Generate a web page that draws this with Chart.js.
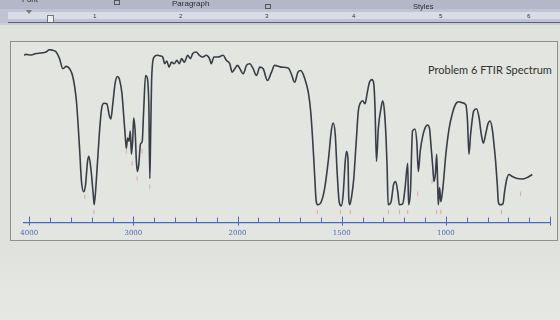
<!DOCTYPE html>
<html>
<head>
<meta charset="utf-8">
<script src="https://cdn.jsdelivr.net/npm/chart.js@4/dist/chart.umd.min.js"></script>
<style>
html, body { margin: 0; padding: 0; }
body { width: 560px; height: 320px; overflow: hidden; position: relative; background: #e0e3dd; font-family: "Liberation Sans", sans-serif; }
.abs { position: absolute; }
#ribbon { left: 0; top: 0; width: 560px; height: 9px; background: #b2b8c8; }
#ruler { left: 0; top: 9px; width: 560px; height: 14px; background: #bfc4d5; }
#strip { left: 8px; top: 12px; width: 552px; height: 7px; background: #dadde8; }
#rulerline { left: 8px; top: 22px; width: 552px; height: 1px; background: #5a6172; }
#under { left: 0; top: 23px; width: 560px; height: 2px; background: #c9cdd8; }
.rtxt { font-size: 8px; color: #2b2d33; line-height: 8px; z-index: 2; }
.rnum { font-size: 6px; color: #333; line-height: 6px; top: 13px; }
#box { left: 10px; top: 41px; width: 546px; height: 198px; border: 1px solid #8d908c; background: #e3e6e0; }
#below { left: 0; top: 250px; width: 560px; height: 70px; background: linear-gradient(#e0e3dd, #e7e9e4); }
#title { left: 428px; top: 63px; font-family: Lato, "Open Sans", sans-serif; font-size: 11px; color: #2e3033; white-space: nowrap; }
canvas { position: absolute; left: 0; top: 0; }
</style>
</head>
<body>
<div id="below" class="abs"></div>
<div id="ribbon" class="abs"></div>
<div id="ruler" class="abs"></div>
<div id="strip" class="abs"></div>
<div class="abs rtxt" style="left:22px;top:-4px;">Font</div>
<div class="abs" style="left:114px;top:0px;width:4px;height:3px;border:1px solid #555;"></div>
<div class="abs rtxt" style="left:172px;top:0px;">Paragraph</div>
<div class="abs" style="left:265px;top:4px;width:4px;height:3px;border:1px solid #555;"></div>
<div class="abs rtxt" style="left:413px;top:3px;font-size:7.5px;">Styles</div>
<div class="abs rnum" style="left:93px;">1</div>
<div class="abs rnum" style="left:179px;">2</div>
<div class="abs rnum" style="left:265px;">3</div>
<div class="abs rnum" style="left:352px;">4</div>
<div class="abs rnum" style="left:439px;">5</div>
<div class="abs rnum" style="left:527px;">6</div>
<div class="abs" style="left:26px;top:10px;width:0;height:0;border-left:3px solid transparent;border-right:3px solid transparent;border-top:4px solid #777;"></div>
<div class="abs" style="left:47px;top:15px;width:5px;height:6px;background:#eee;border:1px solid #777;"></div>
<div id="rulerline" class="abs"></div>
<div id="under" class="abs"></div>
<div id="box" class="abs"></div>
<div id="title" class="abs">Problem 6 FTIR Spectrum</div>
<canvas id="ftir" width="560" height="320"></canvas>
<script>
// spectrum (wavenumber in cm-1, transmittance in %)
const wavenumbers = [4050,4032,3983,3935,3886,3838,3806,3774,3741,3709,
  3677,3644,3612,3580,3547,3531,3515,3498,3476,3459,
  3440,3427,3408,3385,3376,3352,3327,3304,3281,3255,
  3230,3216,3197,3175,3152,3133,3110,3094,3078,3068,
  3055,3042,3029,3019,3007,2997,2983,2971,2961,2948,
  2932,2915,2900,2883,2867,2851,2842,2835,2825,2803,
  2770,2738,2718,2699,2679,2657,2634,2609,2582,2560,
  2537,2511,2478,2453,2430,2398,2366,2333,2301,2269,
  2252,2226,2187,2139,2107,2075,2051,2026,2000,
  1984,1973,1957,1941,1925,1909,1893,1877,1856,1837,
  1822,1789,1757,1742,1726,1710,1697,1684,1670,1660,
  1649,1638,1630,1622,1614,1598,1582,1563,1550,1541,
  1531,1522,1512,1502,1493,1483,1477,1470,1466,1461,
  1451,1442,1431,1420,1410,1399,1388,1378,1367,1355,
  1346,1340,1333,1324,1311,1303,1295,1287,1282,1277,
  1263,1251,1241,1231,1223,1207,1196,1183,1179,1170,
  1160,1148,1139,1132,1123,1111,1100,1088,1078,1071,
  1063,1057,1050,1044,1039,1036,1030,1024,1014,1000,
  984,968,952,938,920,904,896,889,881,866,
  853,841,830,820,809,798,788,777,769,761,
  753,748,740,726,718,708,697,681,657,633,
  609,585];
const transmittance = [96,96.6,96.2,97.1,97.5,98.1,99.6,99.2,98.1,93.9,
  87.5,89,87.5,82.1,67.2,52.5,35.2,16,9.6,14.1,
  28.8,32,24.3,7.7,1.3,20.5,46,62.7,65.6,65.3,
  57.6,55.7,65.6,78.4,82.6,80.6,72,58.9,44.8,37.1,
  43.5,41.6,48,33.3,41.6,56.3,48,28.8,22.4,26.9,
  39.7,41.6,62.7,83.2,81.9,62.7,17.9,41.6,80,94.7,
  96,95.6,94.9,90.7,92.4,88.5,91.7,90.7,92.8,90.7,
  93.9,91.7,96,93.9,97.1,98.1,96,94.9,96,93.9,
  90.7,94.9,94.9,96,92.8,90.7,85.3,87.5,89.6,
  86.4,84.3,89.6,90.7,87.5,83.2,88.5,87.5,80,85.3,
  89.6,88.5,88,84.3,78.9,85.3,86.4,83.8,78,72.3,
  60.8,39.7,20.5,3.2,1.3,3.2,11.5,30.7,48,53.1,
  46,22.4,3.2,0.6,7.7,28.8,35.2,30.7,5.1,1.3,
  7.7,17.9,39.7,60.8,65.9,67.2,65.3,71.7,78.7,80.6,
  78.1,62.7,28.8,49.9,62.7,67.2,60.8,43.5,25.6,1.3,
  3.2,14.1,16,9.6,1.3,1.9,11.5,27.5,1.3,9.6,
  48,49.3,40.3,22.4,35.2,44.8,49.9,51.8,49.3,38.4,
  25.6,16,21.1,33.3,12.8,1.3,12.2,3.2,12.2,33.3,
  49.9,59.5,65.3,66.6,65.9,64.6,54.4,33.3,46,60.8,
  62.1,56.9,46,40.3,46,52.5,54.4,49.3,39.7,28.8,
  14.1,3.2,1.3,1.9,9.6,17.3,20.5,19.2,17.9,17.6,
  18.6,20.5];

// little pink peak marks under the bands
const peakWn = [3466,3379,3068,3013,2964,2915,2842,1617,1506,1459,1276,1223,1183,1135,1066,1044,1024,733,641];
const peakT  = [6.4,-3.2,35.2,27.5,17.9,35.2,12.8,-3.2,-3.2,-3.2,-3.2,-3.2,-3.2,8.3,16,-3.2,-3.2,-3.2,8.3];

// axis labels and tick steps (scale halves above 2000)
const axisLabels = [4000, 3000, 2000, 1500, 1000];
const axisStart = 4050, axisEnd = 500;
const stepHigh = 200, stepLow = 100;

// compressed axis: 4000-2000 drawn at half the scale of 2000-500
function toAxis(w) { return w > 2000 ? 2000 + (w - 2000) / 2 : w; }
function fromAxis(u) { return u > 2000 ? 2000 + (u - 2000) * 2 : u; }

const tickWn = [];
for (let w = 4000; w > 2000; w -= stepHigh) tickWn.push(w);
for (let w = 2000; w >= axisEnd; w -= stepLow) tickWn.push(w);
const tickU = tickWn.map(toAxis);
const labelU = axisLabels.map(toAxis);

const axisBlue = '#4a68bd';

const axisTicks = {
  id: 'axisTicks',
  afterDatasetsDraw(chart) {
    const s = chart.scales.x, y0 = chart.chartArea.bottom, c = chart.ctx;
    c.save();
    c.strokeStyle = axisBlue;
    c.lineWidth = 1;
    tickU.forEach(u => {
      const x = Math.round(s.getPixelForValue(u)) + 0.5;
      const big = labelU.includes(u) || u === axisEnd;
      c.beginPath();
      c.moveTo(x, y0 + (big ? 3 : 0));
      c.lineTo(x, y0 - (big ? 6 : 5));
      c.stroke();
    });
    c.restore();
  }
};

new Chart(document.getElementById('ftir').getContext('2d'), {
  type: 'line',
  data: {
    datasets: [{
      data: wavenumbers.map((w, i) => ({ x: toAxis(w), y: transmittance[i] })),
      borderColor: '#383d48',
      borderWidth: 1.6,
      pointRadius: 0,
      cubicInterpolationMode: 'monotone',
      fill: false
    }, {
      type: 'scatter',
      data: peakWn.map((w, i) => ({ x: toAxis(w), y: peakT[i] })),
      pointStyle: 'line',
      rotation: 90,
      radius: 2.2,
      borderColor: 'rgba(225,140,160,0.75)',
      borderWidth: 1
    }]
  },
  options: {
    responsive: false,
    animation: false,
    layout: { padding: { left: 24, right: 10, top: 49, bottom: 77 } },
    plugins: { legend: { display: false }, tooltip: { enabled: false } },
    scales: {
      x: {
        type: 'linear',
        reverse: true,
        min: axisEnd,
        max: toAxis(axisStart),
        afterBuildTicks: s => { s.ticks = tickU.map(v => ({ value: v })); },
        ticks: {
          autoSkip: false,
          maxRotation: 0,
          padding: 6,
          color: axisBlue,
          font: { family: '"DejaVu Serif", serif', size: 7 },
          callback: v => labelU.includes(v) ? String(fromAxis(v)) : ''
        },
        grid: { drawOnChartArea: false, drawTicks: false },
        border: { color: axisBlue, width: 1.2 }
      },
      y: { display: false, min: -10, max: 100 }
    }
  },
  plugins: [axisTicks]
});
</script>
</body>
</html>
